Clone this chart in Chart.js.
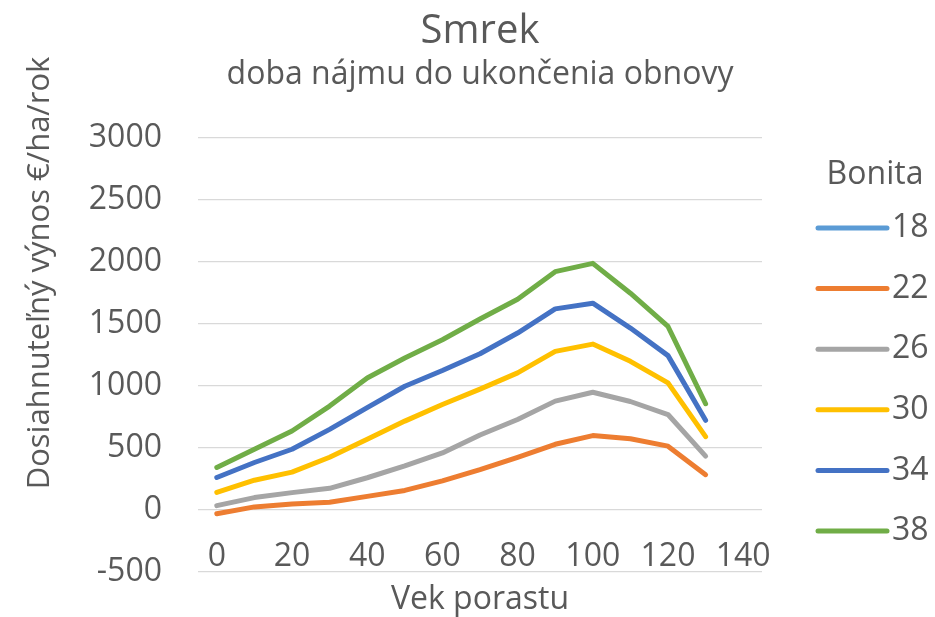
<!DOCTYPE html>
<html>
<head>
<meta charset="utf-8">
<title>Smrek</title>
<script src="https://cdn.jsdelivr.net/npm/chart.js@4.4.1/dist/chart.umd.min.js"></script>
<style>
  html, body { margin: 0; padding: 0; background: #fff; }
</style>
</head>
<body>
<canvas id="chart" width="935" height="617"></canvas>
<script>
// Vek porastu (kategórie osi X), popisy len pri každej druhej
const ages = ['0', '10', '20', '30', '40', '50', '60', '70', '80', '90', '100', '110', '120', '130', '140'];
const bonitas = ['18', '22', '26', '30', '34', '38'];
const colors = ['#5B9BD5', '#ED7D31', '#A5A5A5', '#FFC000', '#4472C4', '#70AD47'];

// Dosiahnuteľný výnos €/ha/rok pre každú bonitu (bonita 18 nie je v grafe vidieť)
const bonita18 = [];
const bonita22 = [-30, 25, 48, 62, 110, 158, 235, 325, 425, 530, 600, 575, 515, 285];
const bonita26 = [35, 100, 140, 175, 260, 355, 460, 605, 730, 878, 950, 875, 770, 435];
const bonita30 = [142, 240, 305, 425, 570, 717, 851, 975, 1106, 1279, 1338, 1199, 1025, 592];
const bonita34 = [262, 383, 490, 650, 825, 998, 1125, 1260, 1427, 1622, 1668, 1467, 1245, 723];
const bonita38 = [343, 490, 637, 838, 1065, 1226, 1373, 1540, 1700, 1922, 1989, 1748, 1480, 857];
const seriesValues = [bonita18, bonita22, bonita26, bonita30, bonita34, bonita38];

const yMin = -500;
const yMax = 3000;
const yStep = 500;

const textColor = '#595959';
const fontFamily = '"Open Sans", "Noto Sans", sans-serif';
const yTitle = 'Dosiahnuteľný výnos €/ha/rok';

// Legend + y-axis title drawn by hand so they sit where Excel put them
const sideText = {
    id: 'sideText',
    afterDraw(chart) {
        const { ctx } = chart;
        ctx.save();
        ctx.fillStyle = textColor;

        ctx.save();
        ctx.font = `31px ${fontFamily}`;
        ctx.translate(40, 273);
        ctx.rotate(-Math.PI / 2);
        ctx.textAlign = 'center';
        ctx.textBaseline = 'middle';
        ctx.fillText(yTitle, 0, 0);
        ctx.restore();

        ctx.font = `32px ${fontFamily}`;
        ctx.textBaseline = 'middle';
        ctx.textAlign = 'center';
        ctx.fillText('Bonita', 875, 175);

        ctx.textAlign = 'left';
        ctx.lineCap = 'round';
        ctx.lineWidth = 5;
        chart.data.datasets.forEach((ds, i) => {
            const y = 228 + i * 60.6;
            ctx.strokeStyle = ds.borderColor;
            ctx.beginPath();
            ctx.moveTo(818, y);
            ctx.lineTo(887, y);
            ctx.stroke();
            ctx.fillText(ds.label, 892, y);
        });
        ctx.restore();
    }
};

const datasets = bonitas.map((b, i) => ({
    label: b,
    data: seriesValues[i],
    borderColor: colors[i],
    backgroundColor: colors[i],
    borderWidth: 5,
    borderCapStyle: 'round',
    borderJoinStyle: 'round',
    pointRadius: 0,
    pointHoverRadius: 0,
    tension: 0,
    xAxisID: 'x',
    yAxisID: 'y'
}));

new Chart(document.getElementById('chart'), {
    type: 'line',
    data: { labels: ages, datasets },
    plugins: [sideText],
    options: {
        responsive: false,
        animation: false,
        layout: { padding: { left: 0, right: 173, top: 0, bottom: 0 } },
        plugins: {
            legend: { display: false },
            tooltip: { enabled: false },
            title: {
                display: true,
                fullSize: false,
                text: 'Smrek',
                color: textColor,
                font: { family: fontFamily, size: 40, weight: 'normal' },
                padding: { top: 8, bottom: -2 }
            },
            subtitle: {
                display: true,
                fullSize: false,
                text: 'doba nájmu do ukončenia obnovy',
                color: textColor,
                font: { family: fontFamily, size: 32, weight: 'normal' },
                padding: { top: 1.8, bottom: 43.8 }
            }
        },
        scales: {
            x: {
                type: 'category',
                position: { y: 0 },
                offset: true,
                grid: { display: false, drawTicks: false },
                border: { display: false },
                ticks: {
                    autoSkip: false,
                    maxRotation: 0,
                    padding: 28,
                    color: textColor,
                    font: { family: fontFamily, size: 32 },
                    callback: (val, i) => (i % 2 === 0 ? ages[i] : '')
                }
            },
            xTitle: {
                type: 'category',
                position: 'bottom',
                grid: { display: false, drawTicks: false },
                border: { display: false },
                ticks: { display: false },
                title: {
                    display: true,
                    text: 'Vek porastu',
                    color: textColor,
                    font: { family: fontFamily, size: 32 },
                    padding: { top: 8.8, bottom: -2.2 }
                }
            },
            y: {
                min: yMin,
                max: yMax,
                grid: {
                    color: '#d9d9d9',
                    lineWidth: 1.2,
                    drawTicks: true,
                    tickLength: 36,
                    tickColor: 'rgba(0,0,0,0)'
                },
                border: { display: false },
                ticks: {
                    stepSize: yStep,
                    padding: 0,
                    color: textColor,
                    font: { family: fontFamily, size: 32 },
                    callback: v => String(v)
                },
                afterFit: scale => { scale.width = 198; }
            }
        }
    }
});
</script>
</body>
</html>
